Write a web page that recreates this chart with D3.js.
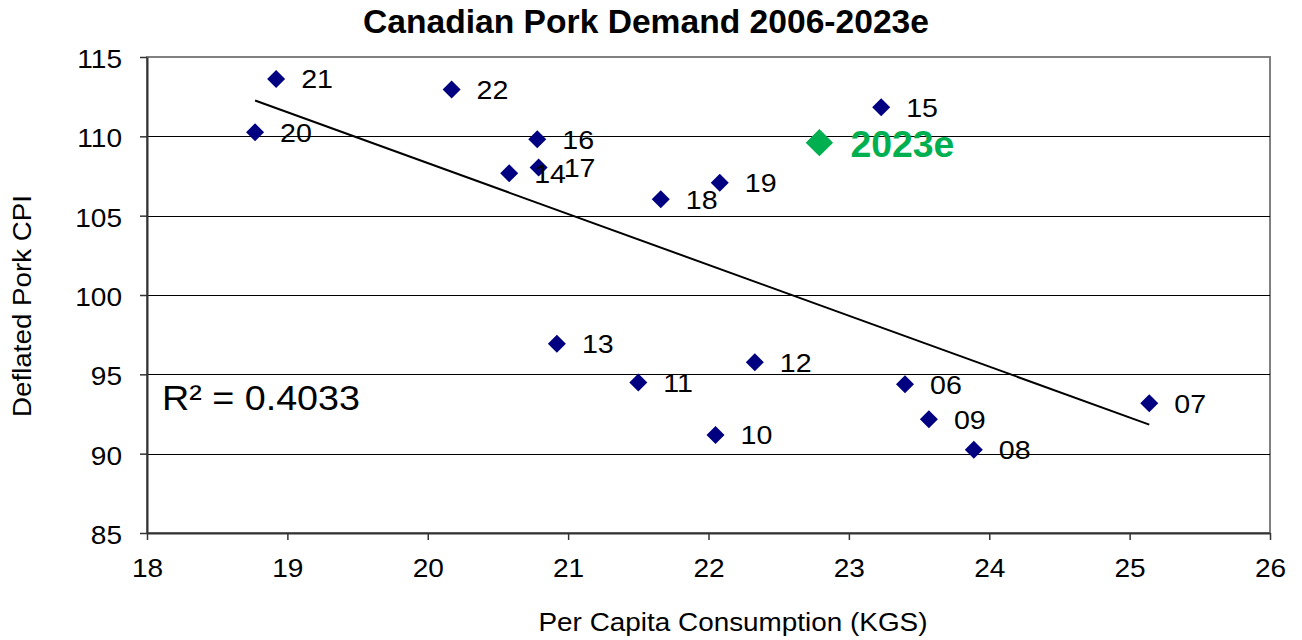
<!DOCTYPE html>
<html>
<head>
<meta charset="utf-8">
<script src="https://cdn.jsdelivr.net/npm/d3@7"></script>
<style>
  html, body { margin: 0; padding: 0; background: #fff; }
  svg { display: block; font-family: "Liberation Sans", Arial, Helvetica, sans-serif; }
</style>
</head>
<body>
<svg id="chart" width="1302" height="640"></svg>
<script>
// ---- data ----
const yearLabels = ["06","07","08","09","10","11","12","13","14","15","16","17","18","19","20","21","22"];
const consumption = [23.40, 25.14, 23.89, 23.57, 22.05, 21.50, 22.33, 20.92, 20.58, 23.23, 20.78, 20.79, 21.66, 22.08, 18.77, 18.92, 20.17];
const porkCPI     = [94.38, 93.18, 90.24, 92.17, 91.18, 94.48, 95.76, 96.92, 107.67, 111.83, 109.81, 108.03, 106.03, 107.08, 110.25, 113.62, 112.95];
const estimateLabel = ["2023e"];
const estimateConsumption = [22.79];
const estimateCPI = [109.60];
const xTicks = [18, 19, 20, 21, 22, 23, 24, 25, 26];
const yTicks = [85, 90, 95, 100, 105, 110, 115];
const titleText = "Canadian Pork Demand 2006-2023e";
const xTitle = "Per Capita Consumption (KGS)";
const yTitle = "Deflated Pork CPI";
const r2Text = "R² = 0.4033";

// ---- layout ----
const svg = d3.select("#chart");
const pL = 147, pR = 1270, pT = 57, pB = 533;
const x = d3.scaleLinear().domain([18, 26]).range([pL, pR]);
const y = d3.scaleLinear().domain([85, 115]).range([pB, pT]);
const SX = 1.1;
const navy = "#000080", green = "#00B050";

// plot area border
svg.append("rect")
  .attr("x", pL).attr("y", pT)
  .attr("width", pR - pL).attr("height", pB - pT)
  .attr("fill", "none").attr("stroke", "#808080").attr("stroke-width", 2);

// gridlines
svg.append("g").selectAll("line")
  .data(yTicks.filter(t => t > 85 && t < 115))
  .join("line")
  .attr("x1", pL).attr("x2", pR)
  .attr("y1", d => Math.round(y(d)) + 0.5).attr("y2", d => Math.round(y(d)) + 0.5)
  .attr("stroke", "#000").attr("stroke-width", 1);

// axes
const xAxis = svg.append("g").attr("transform", `translate(0,${pB})`)
  .call(d3.axisBottom(x).tickValues(xTicks).tickSize(7).tickSizeOuter(0));
const yAxis = svg.append("g").attr("transform", `translate(${pL},0)`)
  .call(d3.axisLeft(y).tickValues(yTicks).tickSize(7).tickSizeOuter(0));
[xAxis, yAxis].forEach(a => {
  a.select(".domain").attr("stroke", "#333").attr("stroke-width", 2);
  a.selectAll(".tick line").attr("stroke", "#333").attr("stroke-width", 1.5);
  a.selectAll(".tick text").attr("fill", "#000").attr("font-size", 25.5)
    .attr("font-family", "Liberation Sans, Arial, sans-serif");
});
xAxis.selectAll(".tick text")
  .attr("x", 0).attr("y", 0).attr("dy", 0)
  .attr("text-anchor", "middle")
  .attr("transform", `translate(0,43.7) scale(${SX},1)`);
yAxis.selectAll(".tick text")
  .attr("x", 0).attr("y", 0).attr("dy", "0.41em")
  .attr("text-anchor", "end")
  .attr("transform", `translate(-25,0) scale(${SX},1)`);

// trend line (least squares over all plotted points incl. estimate)
const allX = consumption.concat(estimateConsumption);
const allY = porkCPI.concat(estimateCPI);
const mx = d3.mean(allX), my = d3.mean(allY);
let sxy = 0, sxx = 0;
allX.forEach((v, i) => { sxy += (v - mx) * (allY[i] - my); sxx += (v - mx) * (v - mx); });
const slope = sxy / sxx, intercept = my - slope * mx;
const [xmin, xmax] = d3.extent(allX);
svg.append("path")
  .datum([xmin, xmax])
  .attr("d", d3.line().x(d => x(d)).y(d => y(intercept + slope * d)))
  .attr("stroke", "#000").attr("stroke-width", 2).attr("fill", "none");

// data points
const pts = yearLabels.map((l, i) => ({ label: l, cx: consumption[i], cy: porkCPI[i] }));
const sym = d3.symbol().type(d3.symbolSquare).size(162);
svg.append("g").selectAll("path")
  .data(pts).join("path")
  .attr("d", sym)
  .attr("transform", d => `translate(${x(d.cx)},${y(d.cy)}) rotate(45)`)
  .attr("fill", navy);

svg.append("g").selectAll("text")
  .data(pts).join("text")
  .attr("transform", d => `translate(${x(d.cx) + 25},${y(d.cy) + 9.5}) scale(${SX},1)`)
  .attr("font-size", 26).attr("fill", "#000")
  .text(d => d.label);

// estimate point
const est = estimateLabel.map((l, i) => ({ label: l, cx: estimateConsumption[i], cy: estimateCPI[i] }));
const symBig = d3.symbol().type(d3.symbolSquare).size(375);
svg.append("g").selectAll("path")
  .data(est).join("path")
  .attr("d", symBig)
  .attr("transform", d => `translate(${x(d.cx)},${y(d.cy)}) rotate(45)`)
  .attr("fill", green);
svg.append("g").selectAll("text")
  .data(est).join("text")
  .attr("x", d => x(d.cx) + 31).attr("y", d => y(d.cy) + 14)
  .attr("font-size", 36).attr("font-weight", "bold").attr("fill", green)
  .attr("textLength", 104).attr("lengthAdjust", "spacingAndGlyphs")
  .text(d => d.label);

// R² label
svg.append("text")
  .attr("x", 162).attr("y", 410)
  .attr("font-size", 35).attr("fill", "#000")
  .attr("textLength", 198).attr("lengthAdjust", "spacingAndGlyphs")
  .text(r2Text);

// titles
svg.append("text")
  .attr("x", 363).attr("y", 32.5)
  .attr("font-size", 34).attr("font-weight", "bold").attr("fill", "#000")
  .attr("textLength", 566).attr("lengthAdjust", "spacingAndGlyphs")
  .text(titleText);

svg.append("text")
  .attr("x", 538.5).attr("y", 631)
  .attr("font-size", 26.5).attr("fill", "#000")
  .attr("textLength", 389).attr("lengthAdjust", "spacingAndGlyphs")
  .text(xTitle);

svg.append("text")
  .attr("transform", "translate(31,306) rotate(-90)")
  .attr("text-anchor", "middle")
  .attr("font-size", 26).attr("fill", "#000")
  .attr("textLength", 222).attr("lengthAdjust", "spacingAndGlyphs")
  .text(yTitle);
</script>
</body>
</html>
